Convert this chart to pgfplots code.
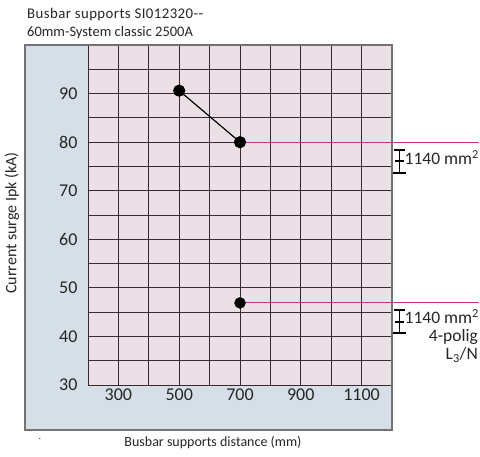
\documentclass[border=0pt]{standalone}
\usepackage{fontspec}
\setmainfont{Carlito}
\newfontfamily\titlefont[LetterSpace=3]{Carlito}
\usepackage{pgfplots}
\pgfplotsset{compat=1.18}
\definecolor{panel}{RGB}{214,223,231}
\definecolor{panelborder}{RGB}{115,115,115}
\definecolor{gridpink}{RGB}{236,224,231}
\definecolor{gridline}{RGB}{55,40,50}
\definecolor{refline}{RGB}{195,50,140}
\definecolor{txt}{RGB}{38,38,38}
\begin{document}
\begin{tikzpicture}[x=1pt,y=1pt]
\path[use as bounding box] (0,0) rectangle (480,456);
\fill[panel] (25,26) rectangle (392,411);
\begin{axis}[
  at={(88pt,71pt)}, anchor=south west,
  scale only axis, width=304pt, height=340pt,
  xmin=200, xmax=1200, ymin=30, ymax=100,
  xtick={300,500,700,900,1100},
  ytick={30,40,50,60,70,80,90},
  minor xtick={200,300,...,1200},
  minor ytick={30,35,...,100},
  grid=both,
  major grid style={gridline, line width=0.9pt},
  minor grid style={gridline, line width=0.9pt},
  axis line style={gridline, line width=0.9pt},
  major tick length=0pt, minor tick length=0pt,
  axis background/.style={fill=gridpink},
  tick label style={font=\fontsize{18}{20}\selectfont, text=txt},
  /pgf/number format/assume math mode=true,
  /pgf/number format/1000 sep={},
  yticklabel style={xshift=-7pt},
  clip=false,
]
\addplot[refline, line width=1.1pt] coordinates {(700,80) (1486,80)};
\addplot[refline, line width=1.1pt] coordinates {(700,46.9) (1486,46.9)};
\addplot[black, line width=1.2pt, mark=*, mark size=5.5pt] coordinates {(500,90.6) (700,80)};
\addplot[black, only marks, mark=*, mark size=5.5pt] coordinates {(700,46.9)};
\end{axis}
\draw[panelborder, line width=1.5pt] (25,26) rectangle (392,411);
% I-beams
\draw[black, line width=1.5pt] (394,306)--(405,306) (399.5,306)--(399.5,283) (395,295)--(404,295);
\draw[black, line width=2pt] (393,283)--(406,283);
\draw[black, line width=1.5pt] (394,146)--(405,146) (399.5,146)--(399.5,123) (395,134)--(404,134);
\draw[black, line width=2pt] (393,123)--(406,123);
% annotations
\node[anchor=base east, inner sep=0pt, font=\fontsize{17.5}{18}\selectfont, text=txt] at (479,291) {1140 mm\textsuperscript{2}};
\node[anchor=base east, inner sep=0pt, font=\fontsize{17.5}{18}\selectfont, text=txt] at (479,132) {1140 mm\textsuperscript{2}};
\node[anchor=base east, inner sep=0pt, font=\fontsize{17.5}{18}\selectfont, text=txt] at (478,114) {4-polig};
\node[anchor=base east, inner sep=0pt, font=\fontsize{17.5}{18}\selectfont, text=txt] at (478,96) {L\textsubscript{3}/N};
% titles and labels
\node[anchor=base west, inner sep=0pt, font=\titlefont\fontsize{14.8}{16}\selectfont, text=txt] at (27,437) {Busbar supports SI012320-{}-};
\node[anchor=base west, inner sep=0pt, font=\fontsize{14.5}{16}\selectfont, text=txt] at (27,419) {60mm-System classic 2500A};
\node[anchor=base, inner sep=0pt, font=\fontsize{14}{16}\selectfont, text=txt] at (213,10) {Busbar supports distance (mm)};
\node[rotate=90, inner sep=0pt, font=\fontsize{16}{18}\selectfont, text=txt] at (12,233) {Current surge Ipk (kA)};
\node[inner sep=0pt, font=\fontsize{10}{12}\selectfont, text=txt] at (40,17) {.};
\end{tikzpicture}
\end{document}
